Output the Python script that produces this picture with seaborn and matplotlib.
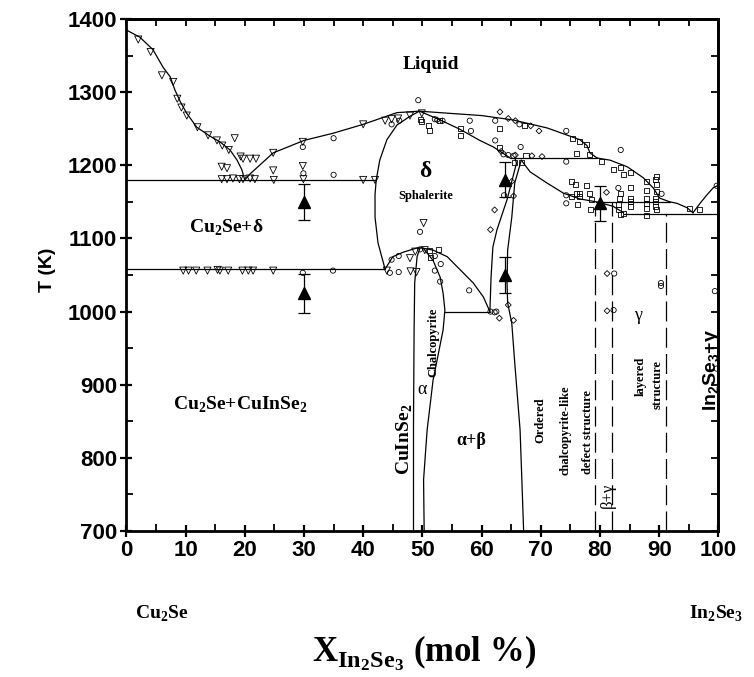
import numpy as np
import pandas as pd
import matplotlib
matplotlib.use("Agg")
import matplotlib.pyplot as plt
import seaborn as sns

# ---------------- phase boundaries: composition (mol % In2Se3) and T (K) ----------------
liq_cu2se_x = [0.0, 2.3, 4.5, 6.2, 7.4, 8.2, 9.1, 10.2, 11.9, 14.1, 15.8, 17.5, 18.7, 19.5, 20.0]
liq_cu2se_T = [1385, 1375, 1358, 1334, 1321, 1303, 1287, 1271, 1252, 1240, 1232, 1221, 1207, 1194, 1180]

liq_dome_x = [20.0, 21.0, 24.8, 30.0, 35.0, 40.0, 45.7, 49.5, 54.7, 60.0, 65.3, 71.1, 76.6, 77.8, 78.3, 79.5]
liq_dome_T = [1180, 1189, 1217, 1234, 1244, 1256, 1272, 1274, 1271, 1268, 1262, 1251, 1235, 1227, 1217, 1210]

delta_liq_x = [49.5, 53.0, 56.4, 59.7, 62.0, 63.7, 64.8]
delta_liq_T = [1274, 1262, 1249, 1234, 1225, 1216, 1210]

delta_left_x = [49.5, 47.9, 45.7, 44.0, 42.8, 42.2, 42.0, 42.0, 42.5, 43.7]
delta_left_T = [1274, 1267, 1255, 1235, 1207, 1180, 1160, 1129, 1094, 1058]

per1210_x = [64.8, 79.5]
per1210_T = [1210, 1210]

liq_in2se3_x = [79.5, 81.7, 84.6, 87.3, 89.0, 90.1, 91.8, 93.0, 94.7, 95.7]
liq_in2se3_T = [1210, 1207, 1198, 1183, 1169, 1155, 1150, 1148, 1142, 1135]

beta_liq_x = [66.7, 68.2, 71.0, 73.8, 76.6, 79.4, 82.2, 84.0]
beta_liq_T = [1207, 1191, 1176, 1162, 1154, 1150, 1144, 1135]

per1150_x = [79.4, 91.8]
per1150_T = [1150, 1150]

eut1135_x = [84.0, 100.0]
eut1135_T = [1134, 1134]

in2se3_x = [95.7, 96.9, 98.0, 99.1, 100.0]
in2se3_T = [1135, 1148, 1159, 1169, 1173]

eut1180_x = [0.0, 42.2]
eut1180_T = [1180, 1180]

eut1058_x = [0.0, 43.7]
eut1058_T = [1058, 1058]

delta_base_x = [43.7, 45.0, 46.7, 49.1, 49.9, 51.8, 54.2, 56.4, 58.6, 60.3, 61.4]
delta_base_T = [1058, 1075, 1081, 1087, 1087, 1084, 1075, 1057, 1039, 1020, 1000]

eut1000_x = [53.8, 61.4]
eut1000_T = [1000, 1000]

delta_right_x = [65.6, 65.9, 64.3, 62.6, 61.9, 61.6, 61.4]
delta_right_T = [1210, 1203, 1153, 1112, 1088, 1047, 1000]

beta_left_x = [66.7, 65.6, 65.1, 64.4, 64.3, 64.4, 65.1, 65.6, 66.5, 66.8, 67.1]
beta_left_T = [1207, 1176, 1129, 1084, 1039, 1012, 984, 930, 838, 770, 700]

alpha_left_x = [49.6, 49.1, 48.7, 48.6, 48.5, 48.5]
alpha_left_T = [1087, 1075, 1039, 975, 850, 700]

alpha_right_x = [50.1, 51.8, 53.0, 53.5, 53.8, 53.5, 51.8, 50.8, 50.2, 50.3]
alpha_right_T = [1087, 1070, 1047, 1025, 1002, 975, 906, 838, 770, 700]

# structural borders (dashed)
struct_x = [79.2, 82.0, 91.2]
struct_top = [1140, 1150, 1134]

# ---------------- experimental points ----------------
tri_x = [2.0, 4.1, 6.0, 7.9, 8.6, 9.3, 10.2, 12.0, 13.8, 15.3, 16.2, 17.3, 18.3, 19.3, 19.7, 20.9, 21.9,
         24.8, 16.1, 17.0, 24.8, 29.8, 29.8,
         16.1, 17.0, 18.0, 19.1, 19.7, 20.9, 21.7, 24.9, 29.9, 40.0, 42.0,
         9.6, 10.5, 11.8, 13.7, 15.4, 15.8, 17.2, 19.6, 20.6, 21.4, 24.8, 44.0, 48.0, 49.0,
         40.0, 43.7, 44.8, 45.9, 47.9, 49.9, 47.9, 48.8, 50.4, 50.2]
tri_T = [1372, 1355, 1323, 1314, 1291, 1279, 1268, 1252, 1241, 1234, 1227, 1221, 1237, 1212, 1209, 1209, 1209,
         1217, 1198, 1196, 1193, 1232, 1199,
         1181, 1181, 1182, 1181, 1181, 1182, 1181, 1180, 1181, 1180, 1180,
         1056, 1056, 1056, 1056, 1057, 1056, 1056, 1056, 1056, 1056, 1056, 1056, 1055, 1054,
         1256, 1261, 1263, 1264, 1268, 1271, 1073, 1082, 1084, 1121]

circ_x = [29.8, 29.9, 29.8, 34.9, 35.0, 35.0, 49.3, 44.8, 46.1, 52.1, 53.4, 58.0, 58.2, 62.3, 62.3,
          49.6, 44.8, 46.0, 49.6, 52.1, 53.1, 52.1, 53.0, 57.9, 44.5, 46.0, 63.7, 64.5, 65.4, 63.8,
          61.5, 62.2, 62.5, 66.6, 66.4, 74.3, 83.5, 74.3, 90.4, 74.3, 74.3, 83.1, 99.7, 82.4, 82.3,
          90.3, 90.3, 99.4, 99.7]
circ_T = [1225, 1189, 1053, 1056, 1237, 1187, 1289, 1256, 1261, 1263, 1261, 1261, 1247, 1261, 1234,
          1109, 1071, 1076, 1085, 1076, 1065, 1056, 1041, 1029, 1053, 1054, 1215, 1214, 1213, 1159,
          1000, 999, 1000, 1225, 1256, 1247, 1221, 1205, 1161, 1159, 1148, 1169, 1172, 1052, 1002,
          1039, 1035, 1028, 922]

diam_x = [52.5, 63.1, 64.5, 65.7, 68.3, 69.7, 63.3, 65.7, 68.5, 70.2, 81.1, 65.1, 65.4, 62.2, 61.5,
          64.5, 63.0, 65.4, 81.2, 81.2]
diam_T = [1262, 1273, 1264, 1261, 1254, 1247, 1219, 1214, 1213, 1212, 1163, 1178, 1158, 1139, 1112,
          1009, 991, 988, 1052, 1001]

sq_x = [49.7, 49.9, 51.0, 51.2, 52.9, 56.4, 56.5, 63.0, 63.0, 51.2, 52.7, 51.3, 65.6, 66.7, 67.3,
        75.4, 76.6, 77.7, 76.1, 78.3, 67.5, 80.3, 82.2, 83.5, 84.0, 85.2, 87.9, 89.3, 89.5, 89.6, 89.6,
        75.2, 75.8, 77.7, 75.2, 76.1, 76.6, 76.6, 78.3, 78.6, 78.4, 76.2, 83.5, 83.3, 83.1, 83.1, 83.5,
        84.0, 85.2, 85.2, 85.2, 85.2, 87.9, 87.9, 87.9, 87.9, 87.9, 89.3, 89.3, 89.3, 89.5, 95.2, 96.8]
sq_T = [1263, 1260, 1255, 1247, 1261, 1250, 1241, 1250, 1225, 1084, 1085, 1074, 1204, 1204, 1255,
        1236, 1232, 1228, 1216, 1215, 1214, 1205, 1194, 1197, 1187, 1190, 1178, 1180, 1184, 1174, 1164,
        1178, 1174, 1172, 1158, 1162, 1162, 1157, 1161, 1153, 1140, 1147, 1162, 1155, 1146, 1139, 1133,
        1134, 1169, 1155, 1150, 1143, 1166, 1155, 1148, 1141, 1131, 1155, 1150, 1143, 1139, 1141, 1140]

dta_x = [30, 30, 64, 64, 80]
dta_T = [1150, 1025, 1180, 1050, 1148]
dta_err = [25, 27, 24, 25, 24]

xticks = list(range(0, 101, 10))
yticks = list(range(700, 1401, 100))

# ---------------- style ----------------
sns.set_style("ticks")
plt.rcParams["font.family"] = ["Liberation Sans", "DejaVu Sans"]
for key in ["text.color", "axes.labelcolor", "xtick.color", "ytick.color", "axes.edgecolor"]:
    plt.rcParams[key] = "black"
plt.rcParams["mathtext.fontset"] = "custom"
plt.rcParams["mathtext.rm"] = "Liberation Serif:bold"
plt.rcParams["mathtext.bf"] = "Liberation Serif:bold"
plt.rcParams["mathtext.sf"] = "Liberation Sans:bold"
SERIF = ["Liberation Serif", "DejaVu Serif"]

fig = plt.figure(figsize=(7.54, 6.77), dpi=100)
ax = fig.add_axes([0.1676, 0.2157, 0.7852, 0.7562])

curves = [
    ("liq_cu2se", liq_cu2se_x, liq_cu2se_T), ("liq_dome", liq_dome_x, liq_dome_T),
    ("delta_liq", delta_liq_x, delta_liq_T), ("delta_left", delta_left_x, delta_left_T),
    ("per1210", per1210_x, per1210_T), ("liq_in2se3", liq_in2se3_x, liq_in2se3_T),
    ("beta_liq", beta_liq_x, beta_liq_T), ("per1150", per1150_x, per1150_T),
    ("eut1135", eut1135_x, eut1135_T), ("in2se3", in2se3_x, in2se3_T),
    ("eut1180", eut1180_x, eut1180_T), ("eut1058", eut1058_x, eut1058_T),
    ("delta_base", delta_base_x, delta_base_T), ("eut1000", eut1000_x, eut1000_T),
    ("delta_right", delta_right_x, delta_right_T), ("beta_left", beta_left_x, beta_left_T),
    ("alpha_left", alpha_left_x, alpha_left_T), ("alpha_right", alpha_right_x, alpha_right_T),
]
lines_df = pd.concat([pd.DataFrame({"x": cx, "T": cT, "curve": name}) for name, cx, cT in curves],
                     ignore_index=True)
sns.lineplot(data=lines_df, x="x", y="T", units="curve", estimator=None, sort=False,
             color="black", linewidth=0.9, legend=False, ax=ax)

dash_df = pd.concat([pd.DataFrame({"x": [sx, sx], "T": [700, top], "curve": f"s{i}"})
                     for i, (sx, top) in enumerate(zip(struct_x, struct_top))], ignore_index=True)
sns.lineplot(data=dash_df, x="x", y="T", units="curve", estimator=None, sort=False,
             color="black", linewidth=0.9, linestyle=(0, (16, 5)), legend=False, ax=ax)

marker_sets = [("v", tri_x, tri_T, 26), ("o", circ_x, circ_T, 14),
               ("s", sq_x, sq_T, 13), ("D", diam_x, diam_T, 9)]
for mk, mx, mT, size in marker_sets:
    sns.scatterplot(x=mx, y=mT, marker=mk, s=size, facecolor="none", edgecolor="black",
                    linewidth=0.6, ax=ax, zorder=3)

ax.errorbar(dta_x, dta_T, yerr=dta_err, fmt="^", color="black", ms=9, capsize=4,
            elinewidth=0.9, capthick=0.9, zorder=4)

# ---------------- axes ----------------
ax.set_xlim(0, 100)
ax.set_ylim(700, 1400)
ax.set_xticks(xticks)
ax.set_xticks(list(range(5, 100, 10)), minor=True)
ax.set_yticks(yticks)
ax.set_yticks(list(range(750, 1400, 100)), minor=True)
ax.set_xlabel("")
ax.set_ylabel("")
ax.tick_params(which="major", direction="inout", length=9, width=1.6, labelsize=16, pad=2)
ax.tick_params(which="minor", direction="in", length=5, width=1.3)
for lbl in ax.get_xticklabels() + ax.get_yticklabels():
    lbl.set_fontweight("bold")
for sp in ax.spines.values():
    sp.set_linewidth(2.0)
    sp.set_visible(True)

top = ax.secondary_xaxis("top")
top.set_xticks(list(range(0, 101, 5)))
top.tick_params(direction="in", length=5, width=1.3, labeltop=False)
top.spines["top"].set_linewidth(2.0)
right = ax.secondary_yaxis("right")
right.set_yticks(list(range(700, 1401, 50)))
right.tick_params(direction="in", length=5, width=1.3, labelright=False)
right.spines["right"].set_linewidth(2.0)

# ---------------- region labels ----------------
def lab(x, y, s, size, rot=0, family=SERIF, weight="bold"):
    ax.text(x, y, s, fontsize=size, rotation=rot, family=family, fontweight=weight,
            ha="center", va="center")

lab(51.4, 1338, "Liquid", 14)
lab(50.5, 1191, "δ", 17)
lab(50.5, 1158, "Sphalerite", 9)
lab(16.9, 1115, r"Cu$_\mathbf{2}$Se+δ", 14)
lab(19.2, 872, r"Cu$_\mathbf{2}$Se+CuInSe$_\mathbf{2}$", 14)
lab(47.0, 825, r"CuInSe$_\mathbf{2}$", 14, rot=90)
lab(50.0, 893, "α", 13, weight="normal")
lab(51.8, 958, "Chalcopyrite", 9, rot=90)
lab(58.3, 824, "α+β", 13)
lab(70.0, 852, "Ordered", 9, rot=90)
lab(74.2, 838, "chalcopyrite-like", 9, rot=90)
lab(78.0, 836, "defect structure", 9, rot=90)
lab(81.4, 749, "β+γ", 12, rot=90, weight="normal")
lab(86.5, 995, "γ", 13, weight="normal")
lab(86.8, 912, "layered", 9, rot=90)
lab(89.8, 900, "structure", 9, rot=90)
lab(98.9, 920, r"In$_\mathsf{2}$Se$_\mathsf{3}$+γ", 14, rot=90, family=["Liberation Sans", "DejaVu Sans"])

# ---------------- axis titles ----------------
fig.text(47 / 754, 1 - 270 / 677, "T (K)", rotation=90, fontsize=14, fontweight="bold",
         ha="center", va="center")
fig.text(162 / 754, 1 - 614 / 677, r"Cu$_\mathbf{2}$Se", fontsize=14, fontweight="bold",
         family=SERIF, ha="center", va="center")
fig.text(716 / 754, 1 - 614 / 677, r"In$_\mathbf{2}$Se$_\mathbf{3}$", fontsize=14,
         fontweight="bold", family=SERIF, ha="center", va="center")
fig.text(424 / 754, 1 - 653 / 677, r"X$_{\mathbf{In_2Se_3}}$ (mol %)", fontsize=25,
         fontweight="bold", family=SERIF, ha="center", va="center")

fig.savefig("out.png", dpi=100)
